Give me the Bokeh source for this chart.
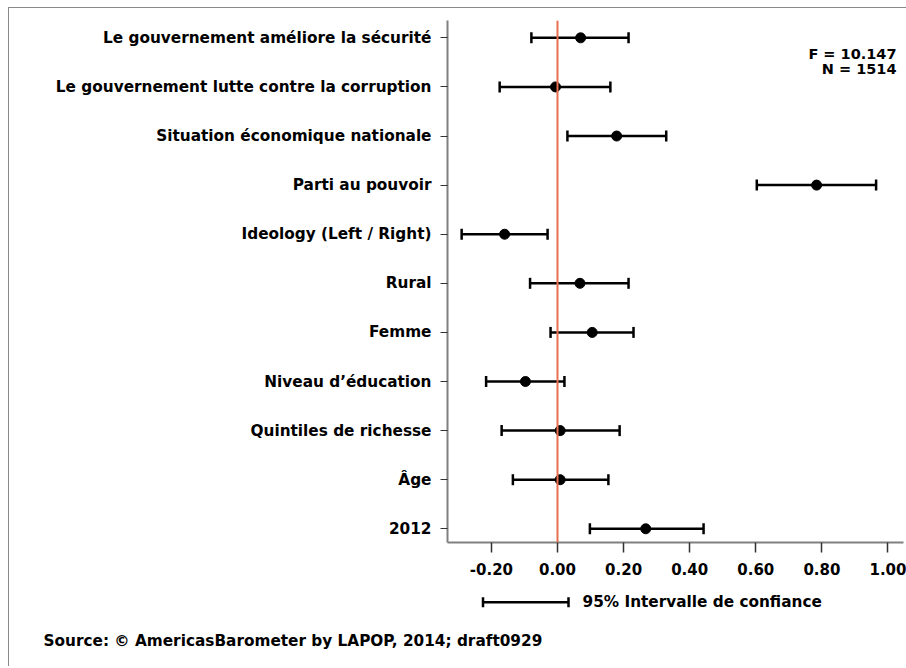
from bokeh.plotting import figure
from bokeh.layouts import column
from bokeh.models import (Span, Whisker, TeeHead, Label, FixedTicker,
                          NumeralTickFormatter, ColumnDataSource, Range1d)
from bokeh.embed import file_html
from bokeh.resources import INLINE

# ---- data ----
labels = [
    "Le gouvernement améliore la sécurité",
    "Le gouvernement lutte contre la corruption",
    "Situation économique nationale",
    "Parti au pouvoir",
    "Ideology (Left / Right)",
    "Rural",
    "Femme",
    "Niveau d’éducation",
    "Quintiles de richesse",
    "Âge",
    "2012",
]
coef = [0.070, -0.006, 0.179, 0.784, -0.160, 0.068, 0.105, -0.097, 0.008, 0.008, 0.267]
ci_low = [-0.079, -0.175, 0.030, 0.603, -0.290, -0.083, -0.021, -0.216, -0.169, -0.135, 0.098]
ci_high = [0.215, 0.160, 0.329, 0.964, -0.030, 0.215, 0.230, 0.021, 0.188, 0.154, 0.442]
x_ticks = [-0.2, 0.0, 0.2, 0.4, 0.6, 0.8, 1.0]
stats = ["F = 10.147", "N = 1514"]
legend_text = "95% Intervalle de confiance"
source_note = "Source: © AmericasBarometer by LAPOP, 2014; draft0929"

n = len(labels)
ypos = [n - i for i in range(n)]

src = ColumnDataSource(dict(y=ypos, coef=coef, lo=ci_low, hi=ci_high, label=labels))

FONT = "DejaVu Sans"
OX, OY = 9, 8            # content origin on the page (after css margin + border)
FW = 906 - OX
BL, BT, BB, BR = 447 - OX, 20 - OY, 40, 3
FRAME_H = 522
FH = BT + FRAME_H + BB
frame_w = FW - BL - BR

p = figure(width=FW, height=FH, output_backend="svg", toolbar_location=None,
           x_range=Range1d(-0.3328, 1.0469), y_range=Range1d(0.721, 11.353),
           min_border_left=BL, min_border_right=BR, min_border_top=BT,
           min_border_bottom=BB)
p.frame_align = False
p.outline_line_color = None
p.xgrid.visible = False
p.ygrid.visible = False
p.background_fill_color = "white"
p.border_fill_color = "white"

# zero reference line
p.add_layout(Span(location=0, dimension="height", line_color="#E8704F", line_width=2))

# confidence intervals
p.add_layout(Whisker(source=src, base="y", lower="lo", upper="hi", dimension="width",
                     line_color="black", line_width=2.5,
                     lower_head=TeeHead(size=11, line_color="black", line_width=2.5),
                     upper_head=TeeHead(size=11, line_color="black", line_width=2.5)))
p.scatter(x="coef", y="y", source=src, size=10, color="black")

# axes
ax = p.xaxis[0]
ax.ticker = FixedTicker(ticks=x_ticks)
ax.formatter = NumeralTickFormatter(format="0.00")
ax.axis_line_color = "#808080"
ax.axis_line_width = 2
ax.major_tick_line_color = "#333333"
ax.major_tick_line_width = 1.5
ax.major_tick_out = 10
ax.major_tick_in = 0
ax.minor_tick_line_color = None
ax.major_label_standoff = 10
ax.major_label_text_font = FONT
ax.major_label_text_font_style = "bold"
ax.major_label_text_font_size = "15px"
ax.major_label_text_color = "black"

ay = p.yaxis[0]
ay.ticker = FixedTicker(ticks=ypos)
ay.major_label_overrides = {y: lab for y, lab in zip(ypos, labels)}
ay.axis_line_color = "#808080"
ay.axis_line_width = 2
ay.major_tick_line_color = "#333333"
ay.major_tick_line_width = 1.2
ay.major_tick_out = 7
ay.major_tick_in = 0
ay.minor_tick_line_color = None
ay.major_label_standoff = 9
ay.major_label_text_font = FONT
ay.major_label_text_font_style = "bold"
ay.major_label_text_font_size = "15.3px"
ay.major_label_text_color = "black"

# F / N statistics (top right)
for k, s in enumerate(stats):
    p.add_layout(Label(x=frame_w - 7, y=FRAME_H - 33 - 15 * k, x_units="screen", y_units="screen",
                       text=s, text_align="right", text_baseline="middle",
                       text_font=FONT, text_font_style="bold", text_font_size="14.5px",
                       text_color="black"))

# ---- bottom strip: CI legend and source note (coordinates = page pixels) ----
top2 = OY + FH
H2 = 666 - top2
p2 = figure(width=FW, height=H2, output_backend="svg", toolbar_location=None,
            x_range=Range1d(OX, OX + FW), y_range=Range1d(top2 + H2, top2),
            x_axis_location=None, y_axis_location=None,
            min_border_left=0, min_border_right=0, min_border_top=0, min_border_bottom=0)
p2.frame_align = False
p2.outline_line_color = None
p2.xgrid.visible = False
p2.ygrid.visible = False
p2.background_fill_color = "white"
p2.border_fill_color = "white"

leg_y = 601.7
p2.add_layout(Whisker(base=leg_y, lower=482.5, upper=568, dimension="width",
                      line_color="black", line_width=2.5,
                      lower_head=TeeHead(size=10, line_color="black", line_width=2.5),
                      upper_head=TeeHead(size=10, line_color="black", line_width=2.5)))
p2.add_layout(Label(x=582, y=leg_y, text=legend_text,
                    text_align="left", text_baseline="middle",
                    text_font=FONT, text_font_style="bold", text_font_size="15.3px",
                    text_color="black"))
p2.add_layout(Label(x=43, y=640, text=source_note,
                    text_align="left", text_baseline="middle",
                    text_font=FONT, text_font_style="bold", text_font_size="15.3px",
                    text_color="black"))

lay = column(p, p2, spacing=0,
             styles={"margin-left": "8px", "margin-top": "7px",
                     "border-left": "1px solid #8a8a8a", "border-top": "1px solid #8a8a8a"})

open("out.html", "w").write(file_html(lay, INLINE))
